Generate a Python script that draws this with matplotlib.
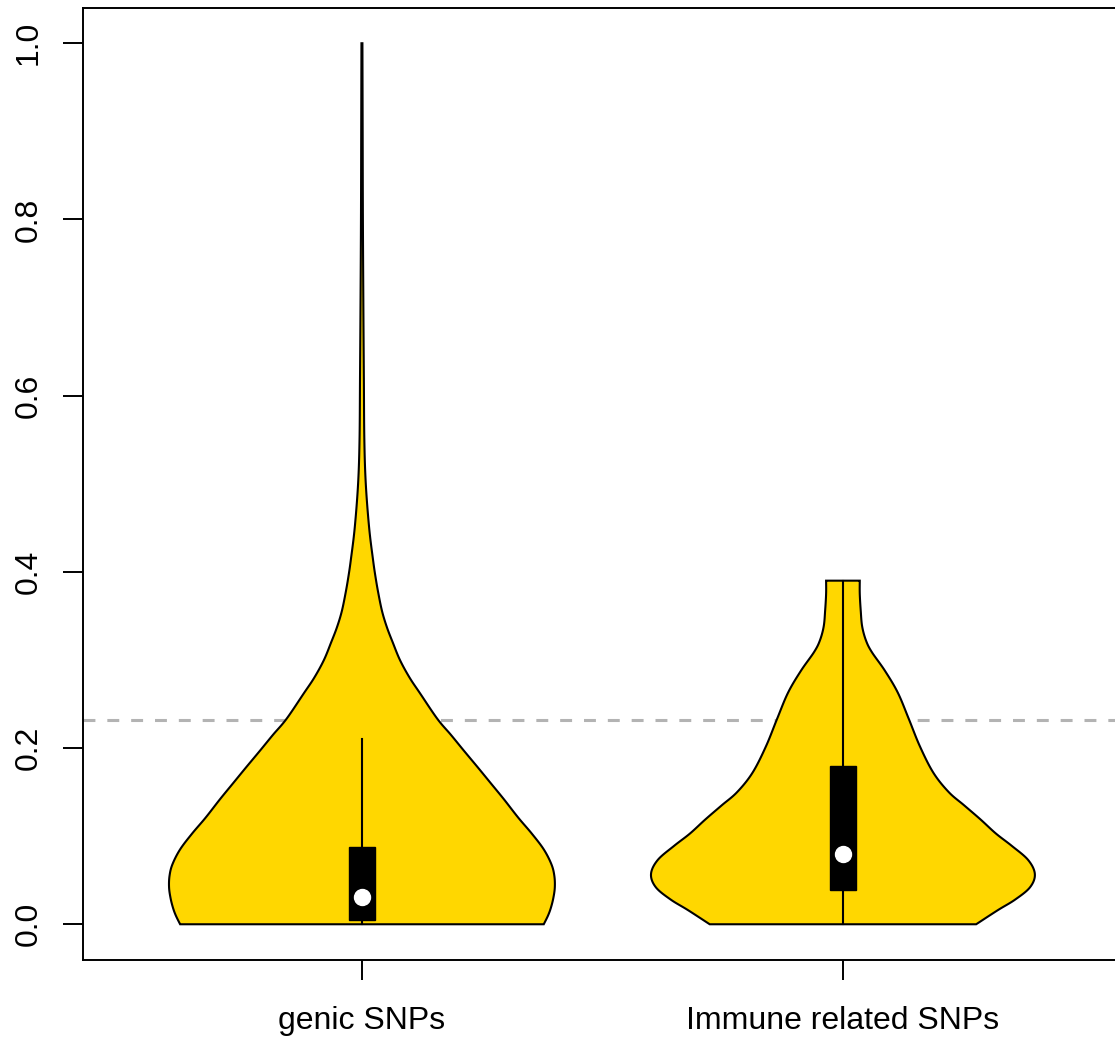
import numpy as np
import matplotlib.pyplot as plt

plt.rcParams['font.family'] = ['Liberation Sans', 'DejaVu Sans']

# category labels
groups = ["genic SNPs", "Immune related SNPs"]

# violin outlines: value levels and half-widths (x units)
genic_y = [0.000, 0.010, 0.019, 0.030, 0.042, 0.055, 0.068, 0.085, 0.103, 0.121, 0.142, 0.160, 0.178,
           0.197, 0.215, 0.233, 0.262, 0.280, 0.300, 0.320, 0.337, 0.355, 0.376, 0.395, 0.414, 0.450,
           0.500, 0.550, 0.620, 0.700, 0.800, 0.900, 1.000]
genic_w = [0.378, 0.387, 0.393, 0.398, 0.401, 0.400, 0.394, 0.378, 0.353, 0.325, 0.295, 0.268, 0.241,
           0.212, 0.185, 0.157, 0.121, 0.099, 0.079, 0.064, 0.052, 0.042, 0.034, 0.028, 0.023, 0.015,
           0.008, 0.005, 0.004, 0.003, 0.002, 0.0015, 0.001]

immune_y = [0.000, 0.016, 0.028, 0.042, 0.057, 0.073, 0.089, 0.103, 0.119, 0.135, 0.150, 0.172, 0.202,
            0.233, 0.263, 0.288, 0.309, 0.322, 0.338, 0.356, 0.375, 0.390]
immune_w = [0.277, 0.322, 0.358, 0.389, 0.399, 0.385, 0.351, 0.318, 0.286, 0.252, 0.220, 0.188, 0.160,
            0.137, 0.114, 0.087, 0.060, 0.048, 0.040, 0.037, 0.035, 0.035]

# box summaries: q1, median, q3, lower whisker, upper whisker
q1 = [0.005, 0.039]
med = [0.031, 0.080]
q3 = [0.088, 0.180]
wlo = [0.0, 0.0]
whi = [0.210, 0.390]

ref_line = 0.232


def smooth_outline(y, w, n=12):
    # Catmull-Rom curve through the read points, only for drawing a smooth edge
    y = np.asarray(y, float)
    w = np.asarray(w, float)
    py = np.concatenate([[y[0]], y, [y[-1]]])
    pw = np.concatenate([[w[0]], w, [w[-1]]])
    out_y, out_w = [], []
    t = np.linspace(0, 1, n, endpoint=False)
    for k in range(1, len(py) - 2):
        for arr, out in ((py, out_y), (pw, out_w)):
            p0, p1, p2, p3 = arr[k - 1], arr[k], arr[k + 1], arr[k + 2]
            out.extend(0.5 * (2 * p1 + (-p0 + p2) * t + (2 * p0 - 5 * p1 + 4 * p2 - p3) * t ** 2
                              + (-p0 + 3 * p1 - 3 * p2 + p3) * t ** 3))
    out_y.append(y[-1])
    out_w.append(w[-1])
    return np.array(out_y), np.clip(np.array(out_w), 0, None)


fig = plt.figure(figsize=(11.15, 10.4), dpi=100)
ax = fig.add_axes([0.0744, 0.0774, 0.9318, 0.9149])

profiles = [(genic_y, genic_w), (immune_y, immune_w)]
for i, (yy, ww) in enumerate(profiles):
    pos = i + 1
    sy, sw = smooth_outline(yy, ww)
    xs = np.concatenate([pos - sw, (pos + sw)[::-1]])
    ys = np.concatenate([sy, sy[::-1]])
    ax.fill(xs, ys, facecolor="gold", edgecolor="black", lw=1.5, zorder=2)
    # whisker
    ax.plot([pos, pos], [wlo[i], whi[i]], color="black", lw=1.5, zorder=3)
    # box
    ax.add_patch(plt.Rectangle((pos - 0.027, q1[i]), 0.054, q3[i] - q1[i],
                               facecolor="black", edgecolor="black", zorder=4))
    ax.plot(pos, med[i], "o", color="white", ms=11.5, zorder=5)

ax.axhline(ref_line, color="#b3b3b3", lw=2.2, linestyle=(0, (3.9, 3.9)), zorder=1)

ax.set_xlim(0.42, 2.58)
ax.set_ylim(-0.04, 1.04)
ax.set_xticks([1, 2])
ax.set_xticklabels(groups)
ax.set_yticks([0.0, 0.2, 0.4, 0.6, 0.8, 1.0])
ax.set_yticklabels(["0.0", "0.2", "0.4", "0.6", "0.8", "1.0"], rotation=90, va="center")
ax.tick_params(axis="both", length=14.4, width=1.4, labelsize=23)
ax.tick_params(axis="y", pad=14)
ax.tick_params(axis="x", pad=19)
for s in ax.spines.values():
    s.set_linewidth(1.4)

fig.savefig("out.png", dpi=100)
